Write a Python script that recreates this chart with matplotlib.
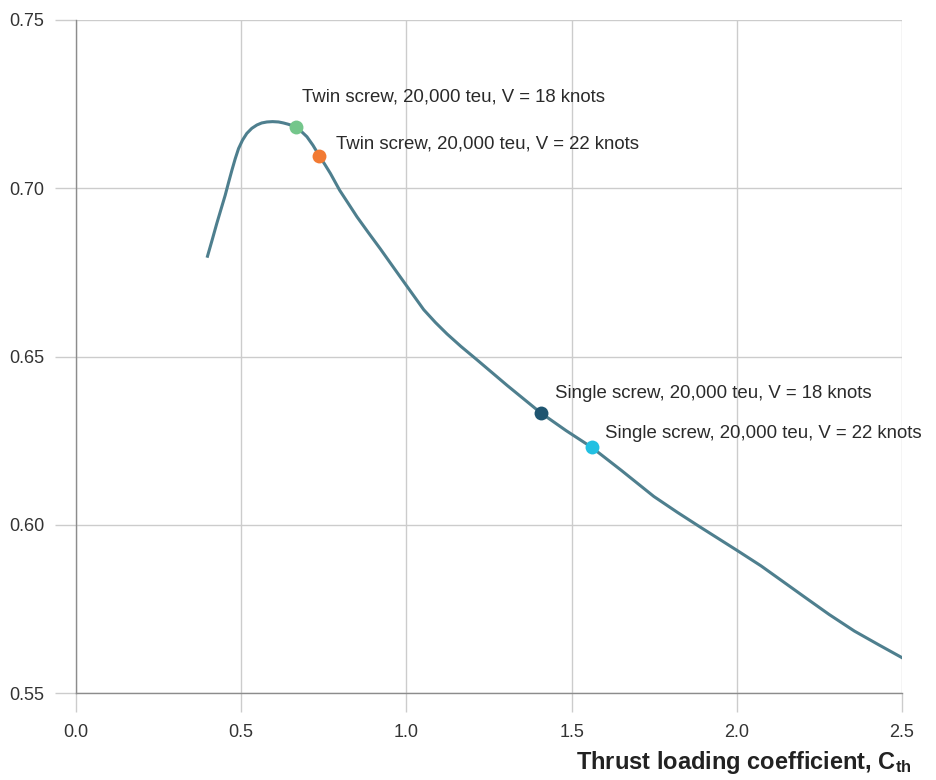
import matplotlib.pyplot as plt

plt.rcParams['font.family'] = ['Liberation Sans', 'DejaVu Sans']
plt.rcParams['mathtext.fontset'] = 'custom'
plt.rcParams['mathtext.rm'] = 'Liberation Sans'
plt.rcParams['mathtext.bf'] = 'Liberation Sans:bold'

# Efficiency curve vs thrust loading coefficient
cth = [0.398, 0.412, 0.426, 0.439, 0.4515, 0.462, 0.472, 0.482, 0.492, 0.504, 0.517,
       0.532, 0.5475, 0.562, 0.578, 0.595, 0.613, 0.628, 0.643, 0.655, 0.667, 0.683,
       0.699, 0.717, 0.736, 0.753, 0.770, 0.798, 0.824, 0.8505, 0.885, 0.921, 0.960,
       1.0, 1.0525, 1.088, 1.123, 1.165, 1.209, 1.257, 1.305, 1.406, 1.483, 1.561,
       1.65, 1.749, 1.82, 1.891, 2.002, 2.073, 2.14, 2.204, 2.28, 2.356, 2.43, 2.5]
eff = [0.6798, 0.6846, 0.6895, 0.6938, 0.6979, 0.7018, 0.7054, 0.7088, 0.7118, 0.7143, 0.7163,
       0.7178, 0.7188, 0.7194, 0.7197, 0.7198, 0.7197, 0.7194, 0.7190, 0.7186, 0.7181, 0.7168,
       0.7153, 0.7128, 0.7097, 0.7071, 0.7044, 0.6994, 0.6955, 0.6915, 0.6868, 0.6820, 0.6766,
       0.6711, 0.6639, 0.6601, 0.6567, 0.6530, 0.6494, 0.6454, 0.6414, 0.6333, 0.6280, 0.6230,
       0.6162, 0.6084, 0.6037, 0.5992, 0.5923, 0.5878, 0.5831, 0.5786, 0.5733, 0.5684, 0.5643, 0.5605]

# Design points
pt_labels = ['Twin screw, 20,000 teu, V = 18 knots',
             'Twin screw, 20,000 teu, V = 22 knots',
             'Single screw, 20,000 teu, V = 18 knots',
             'Single screw, 20,000 teu, V = 22 knots']
pt_x = [0.667, 0.736, 1.406, 1.561]
pt_y = [0.7181, 0.7097, 0.6333, 0.6230]
pt_colors = ['#74c68b', '#f27a33', '#1f5570', '#22c0e2']
label_offsets = [(6, 30), (17, 12), (14, 19), (13, 14)]

fig = plt.figure(figsize=(9.36, 7.8), dpi=100)
ax = fig.add_axes([76 / 936, 1 - 693 / 780, 826 / 936, 673 / 780])

ax.plot(cth, eff, color='#4e7f8e', linewidth=2.2, solid_joinstyle='round', zorder=3)
for x, y, c, lab, off in zip(pt_x, pt_y, pt_colors, pt_labels, label_offsets):
    ax.plot(x, y, 'o', color=c, markersize=10, markeredgewidth=0, zorder=4)
    ax.annotate(lab, (x, y), xytext=off, textcoords='offset pixels',
                ha='left', va='center', fontsize=13.4, color='#2a2a2a')

ax.set_xlim(0, 2.5)
ax.set_ylim(0.55, 0.75)
ax.set_xticks([0.0, 0.5, 1.0, 1.5, 2.0, 2.5])
ax.set_xticklabels(['0.0', '0.5', '1.0', '1.5', '2.0', '2.5'])
ax.set_yticks([0.55, 0.60, 0.65, 0.70, 0.75])
ax.set_yticklabels(['0.55', '0.60', '0.65', '0.70', '0.75'])

ax.grid(True, color='#cccccc', linewidth=1)
ax.set_axisbelow(True)
for s in ['top', 'right']:
    ax.spines[s].set_visible(False)
for s in ['left', 'bottom']:
    ax.spines[s].set_color('#8c8c8c')
    ax.spines[s].set_linewidth(1)

ax.tick_params(axis='y', length=15, width=1, color='#cccccc', pad=8,
               labelsize=13, labelcolor='#333333')
ax.tick_params(axis='x', length=13.5, width=1, color='#cccccc', pad=9,
               labelsize=13, labelcolor='#333333')
# the left spine carries on below the axis as the 0.0 tick
ax.get_xticklines()[0].set_color('#8c8c8c')
ax.get_yticklines()[0].set_color('#8c8c8c')

fig.text(912 / 936, 1 - 763 / 780, 'Thrust loading coefficient, ' + r'$\mathbf{C_{th}}$',
         ha='right', va='center', fontsize=17, fontweight='bold', color='#222222')

fig.savefig('out.png', dpi=100)
